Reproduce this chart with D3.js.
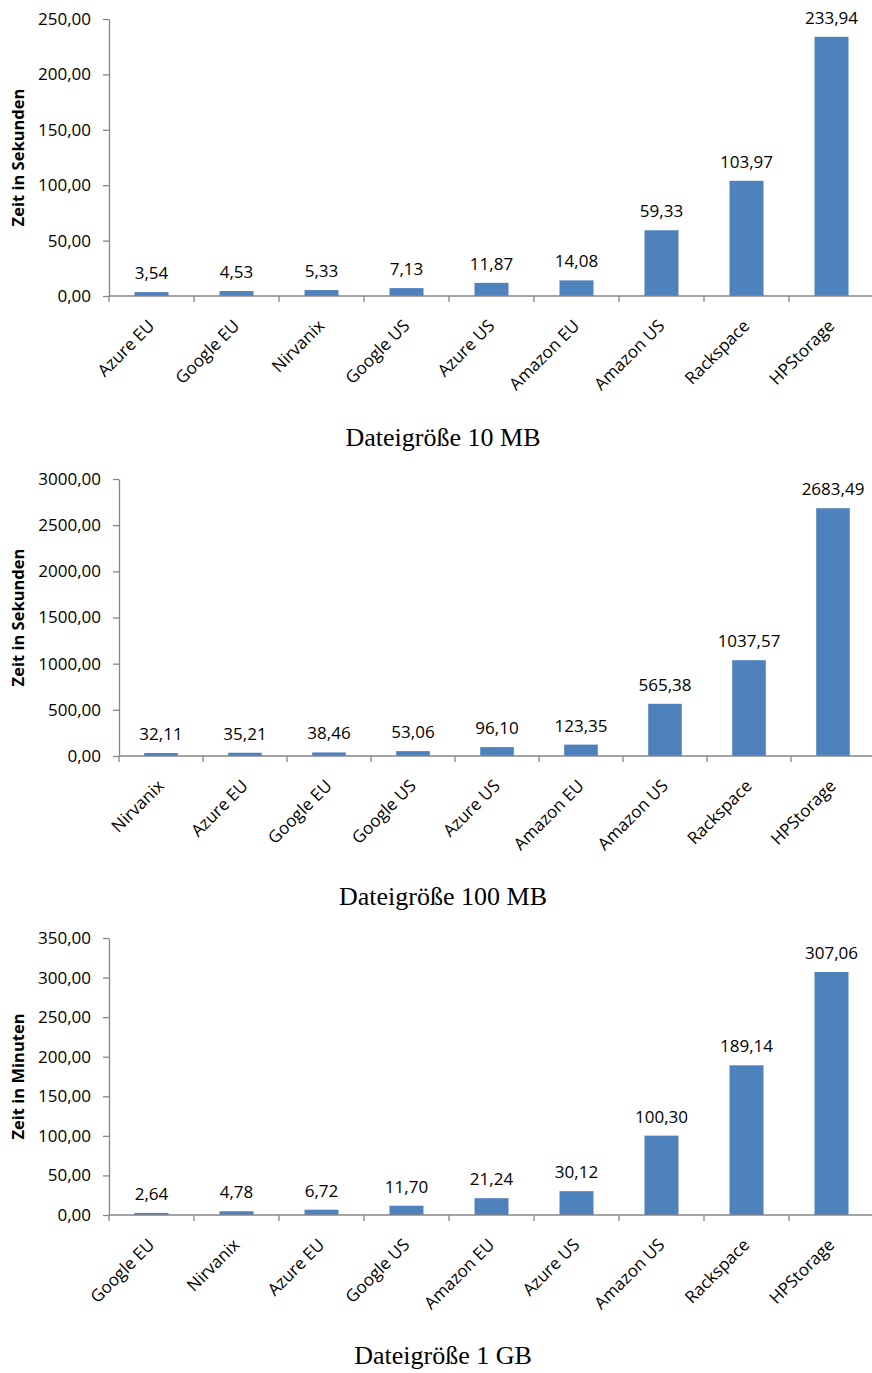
<!DOCTYPE html>
<html>
<head>
<meta charset="utf-8">
<script src="https://cdn.jsdelivr.net/npm/d3@7"></script>
<style>
  html, body { margin: 0; padding: 0; background: #fff; }
  svg { display: block; }
  text { font-family: "Open Sans", "Noto Sans", sans-serif; fill: #000; }
  .caption { font-family: "Liberation Serif", "DejaVu Serif", serif; }
</style>
</head>
<body>
<svg id="chart" width="872" height="1373"></svg>
<script>
// ---- Data ----
const categories10MB = ["Azure EU", "Google EU", "Nirvanix", "Google US", "Azure US", "Amazon EU", "Amazon US", "Rackspace", "HPStorage"];
const values10MB = [3.54, 4.53, 5.33, 7.13, 11.87, 14.08, 59.33, 103.97, 233.94];
const ticks10MB = [0, 50, 100, 150, 200, 250];

const categories100MB = ["Nirvanix", "Azure EU", "Google EU", "Google US", "Azure US", "Amazon EU", "Amazon US", "Rackspace", "HPStorage"];
const values100MB = [32.11, 35.21, 38.46, 53.06, 96.10, 123.35, 565.38, 1037.57, 2683.49];
const ticks100MB = [0, 500, 1000, 1500, 2000, 2500, 3000];

const categories1GB = ["Google EU", "Nirvanix", "Azure EU", "Google US", "Amazon EU", "Azure US", "Amazon US", "Rackspace", "HPStorage"];
const values1GB = [2.64, 4.78, 6.72, 11.70, 21.24, 30.12, 100.30, 189.14, 307.06];
const ticks1GB = [0, 50, 100, 150, 200, 250, 300, 350];

const yTitles = ["Zeit in Sekunden", "Zeit in Sekunden", "Zeit in Minuten"];
const captions = ["Dateigröße 10 MB", "Dateigröße 100 MB", "Dateigröße 1 GB"];

// ---- Layout ----
const layouts = [
  { x0: 109, step: 85, yBottom: 296, yTop: 19, capY: 446 },
  { x0: 119, step: 84, yBottom: 756, yTop: 479, capY: 905 },
  { x0: 109, step: 85, yBottom: 1215, yTop: 938, capY: 1364 }
];

const locale = d3.formatLocale({ decimal: ",", thousands: "", grouping: [3], currency: ["", "€"] });
const fmt = locale.format(".2f");

const BAR = "#4F81BD";
const AXIS = "#868686";
const FS = "17px";

const svg = d3.select("#chart");

function drawChart(cats, vals, ticks, yTitle, caption, L) {
  const g = svg.append("g");
  const n = cats.length;
  const x = d3.scaleBand()
    .domain(cats)
    .range([L.x0, L.x0 + n * L.step])
    .paddingInner(0.6)
    .paddingOuter(0.3);
  const y = d3.scaleLinear()
    .domain([0, ticks[ticks.length - 1]])
    .range([L.yBottom, L.yTop]);

  // bars
  g.selectAll("rect.bar")
    .data(vals)
    .enter().append("rect")
    .attr("class", "bar")
    .attr("x", (d, i) => x(cats[i]))
    .attr("width", x.bandwidth())
    .attr("y", d => y(d))
    .attr("height", d => y(0) - y(d))
    .attr("fill", BAR);

  // value labels
  g.selectAll("text.val")
    .data(vals)
    .enter().append("text")
    .attr("class", "val")
    .attr("x", (d, i) => x(cats[i]) + x.bandwidth() / 2)
    .attr("y", d => y(d) - 13)
    .attr("text-anchor", "middle")
    .style("font-size", FS)
    .text(d => fmt(d));

  // y axis
  const yAxis = d3.axisLeft(y)
    .tickValues(ticks)
    .tickSize(6)
    .tickSizeOuter(0)
    .tickPadding(12)
    .tickFormat(fmt);
  const ya = g.append("g")
    .attr("transform", `translate(${L.x0},0)`)
    .call(yAxis);
  ya.select(".domain").attr("stroke", AXIS).attr("stroke-width", 1.3);
  ya.selectAll(".tick line").attr("stroke", AXIS).attr("stroke-width", 1.3);
  ya.selectAll(".tick text")
    .style("font-family", "'Open Sans', sans-serif")
    .style("font-size", FS)
    .attr("fill", "#000");

  // x axis line + boundary ticks
  const xr = x.range();
  g.append("line")
    .attr("x1", xr[0]).attr("x2", xr[1])
    .attr("y1", y(0)).attr("y2", y(0))
    .attr("stroke", AXIS).attr("stroke-width", 1.3);
  const bounds = d3.range(n + 1).map(i => xr[0] + i * x.step());
  g.selectAll("line.xt")
    .data(bounds)
    .enter().append("line")
    .attr("class", "xt")
    .attr("x1", d => d).attr("x2", d => d)
    .attr("y1", y(0)).attr("y2", y(0) + 6)
    .attr("stroke", AXIS).attr("stroke-width", 1.3);

  // category labels
  g.selectAll("text.cat")
    .data(cats)
    .enter().append("text")
    .attr("class", "cat")
    .attr("transform", d => `translate(${x(d) + x.bandwidth() / 2 + 4},${y(0) + 31}) rotate(-45)`)
    .attr("text-anchor", "end")
    .style("font-size", FS)
    .text(d => d);

  // y title
  g.append("text")
    .attr("transform", `translate(18,${(L.yBottom + L.yTop) / 2}) rotate(-90)`)
    .attr("text-anchor", "middle")
    .attr("dy", "0.35em")
    .style("font-size", "16.5px")
    .style("font-weight", "bold")
    .text(yTitle);

  // caption
  g.append("text")
    .attr("class", "caption")
    .attr("x", 443)
    .attr("y", L.capY)
    .attr("text-anchor", "middle")
    .style("font-size", "26px")
    .text(caption);
}

drawChart(categories10MB, values10MB, ticks10MB, yTitles[0], captions[0], layouts[0]);
drawChart(categories100MB, values100MB, ticks100MB, yTitles[1], captions[1], layouts[1]);
drawChart(categories1GB, values1GB, ticks1GB, yTitles[2], captions[2], layouts[2]);
</script>
</body>
</html>
